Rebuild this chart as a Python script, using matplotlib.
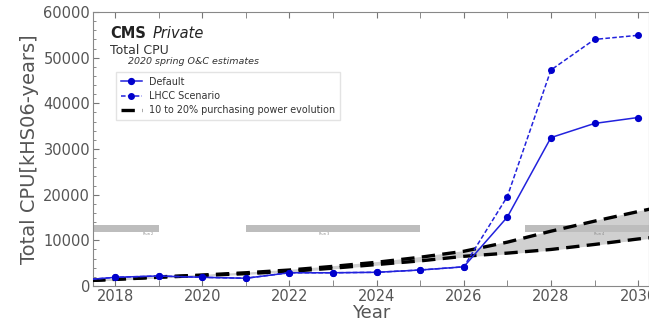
import numpy as np
from matplotlib import pyplot as plt
from matplotlib.ticker import MultipleLocator

# CPU needs [kHS06-years]
years = [2017, 2018, 2019, 2020, 2021, 2022, 2023, 2024, 2025, 2026, 2027, 2028, 2029, 2030]
cpu_default = [1100, 1900, 2200, 1900, 1700, 2900, 2900, 3000, 3500, 4200, 15100, 32500, 35600, 36900]
cpu_lhcc = [1100, 1900, 2200, 1900, 1700, 2900, 2900, 3000, 3500, 4200, 19600, 47300, 54000, 54900]

# purchasing power envelope
pp_years = [2017, 2018, 2019, 2020, 2021, 2022, 2023, 2024, 2025, 2026, 2027, 2028, 2029, 2030, 2031]
pp_high = [1000, 1500, 2000, 2400, 2900, 3500, 4300, 5200, 6300, 7600, 9600, 12000, 14200, 16300, 18300]
pp_low = [1000, 1450, 1900, 2300, 2700, 3200, 3900, 4700, 5500, 6500, 7200, 8000, 9100, 10300, 11300]

# LHC runs
run_names = ['Run 2', 'Run 3', 'Run 4']
run_start = [2015.0, 2021.0, 2027.4]
run_end = [2019.0, 2025.0, 2031.0]
run_label_x = [2018.76, 2022.8, 2029.1]

fig = plt.figure(figsize=(6.49, 3.25), dpi=100)
ax = fig.add_axes([0.1433, 0.12, 0.8567, 0.843])

ax.fill_between(pp_years, pp_low, pp_high, color='#d0d0d0', zorder=1)
for i in range(len(run_names)):
    ax.barh(y=12650, width=run_end[i] - run_start[i], left=run_start[i], height=1600,
            color='#bdbdbd', edgecolor='none', zorder=2)
    ax.text(run_label_x[i], 11300, run_names[i], fontsize=2.5, color='#888888',
            ha='center', va='center', zorder=2)

ax.plot(pp_years, pp_high, color='black', lw=2.4, ls=(0, (4, 2.2)), zorder=3,
        label='10 to 20% purchasing power evolution')
ax.plot(pp_years, pp_low, color='black', lw=2.4, ls=(0, (4, 2.2)), zorder=3)

ax.plot(years, cpu_default, color='#2222dd', lw=1.1, marker='o', ms=4.2,
        mfc='#0000cc', mec='#0000cc', zorder=4, label='Default')
ax.plot(years, cpu_lhcc, color='#2222dd', lw=1.1, ls=(0, (3, 1.5)), marker='o', ms=4,
        mfc='#0000cc', mec='#0000cc', zorder=4, label='LHCC Scenario')

ax.set_xlim(2017.495, 2030.25)
ax.set_ylim(0, 60000)
ax.set_xticks(np.arange(2018, 2031, 2))
ax.xaxis.set_minor_locator(MultipleLocator(1))
ax.yaxis.set_major_locator(MultipleLocator(10000))
ax.yaxis.set_minor_locator(MultipleLocator(2000))
ax.tick_params(which='both', direction='in', top=True, right=False, colors='#777777',
               labelcolor='#555555', labelsize=10.5, pad=2)
ax.tick_params(which='major', length=4)
ax.tick_params(which='minor', length=2)
ax.tick_params(axis='x', which='minor', length=4)
for s in ax.spines.values():
    s.set_color('#888888')

ax.set_xlabel('Year', fontsize=13, color='#555555', labelpad=0)
ax.set_ylabel('Total CPU[kHS06-years]', fontsize=14, color='#555555', labelpad=3)

ax.text(0.031, 0.923, 'CMS', transform=ax.transAxes, fontsize=10.5, fontweight='bold',
        va='center', color='#222222')
ax.text(0.108, 0.923, 'Private', transform=ax.transAxes, fontsize=10.5, style='italic',
        va='center', color='#222222')
ax.text(0.031, 0.861, 'Total CPU', transform=ax.transAxes, fontsize=9,
        va='center', color='#333333')
ax.text(0.063, 0.818, '2020 spring O&C estimates', transform=ax.transAxes, fontsize=6.8,
        style='italic', va='center', color='#333333')

h, l = ax.get_legend_handles_labels()
order = [1, 2, 0]
leg = ax.legend([h[i] for i in order], [l[i] for i in order], loc='upper left',
                bbox_to_anchor=(0.041, 0.781), fontsize=6.9, frameon=True, fancybox=False,
                edgecolor='#dddddd', handlelength=2.2, labelspacing=0.45, borderpad=0.5,
                borderaxespad=0)
for t in leg.get_texts():
    t.set_color('#333333')

fig.savefig('out.png', dpi=100)
